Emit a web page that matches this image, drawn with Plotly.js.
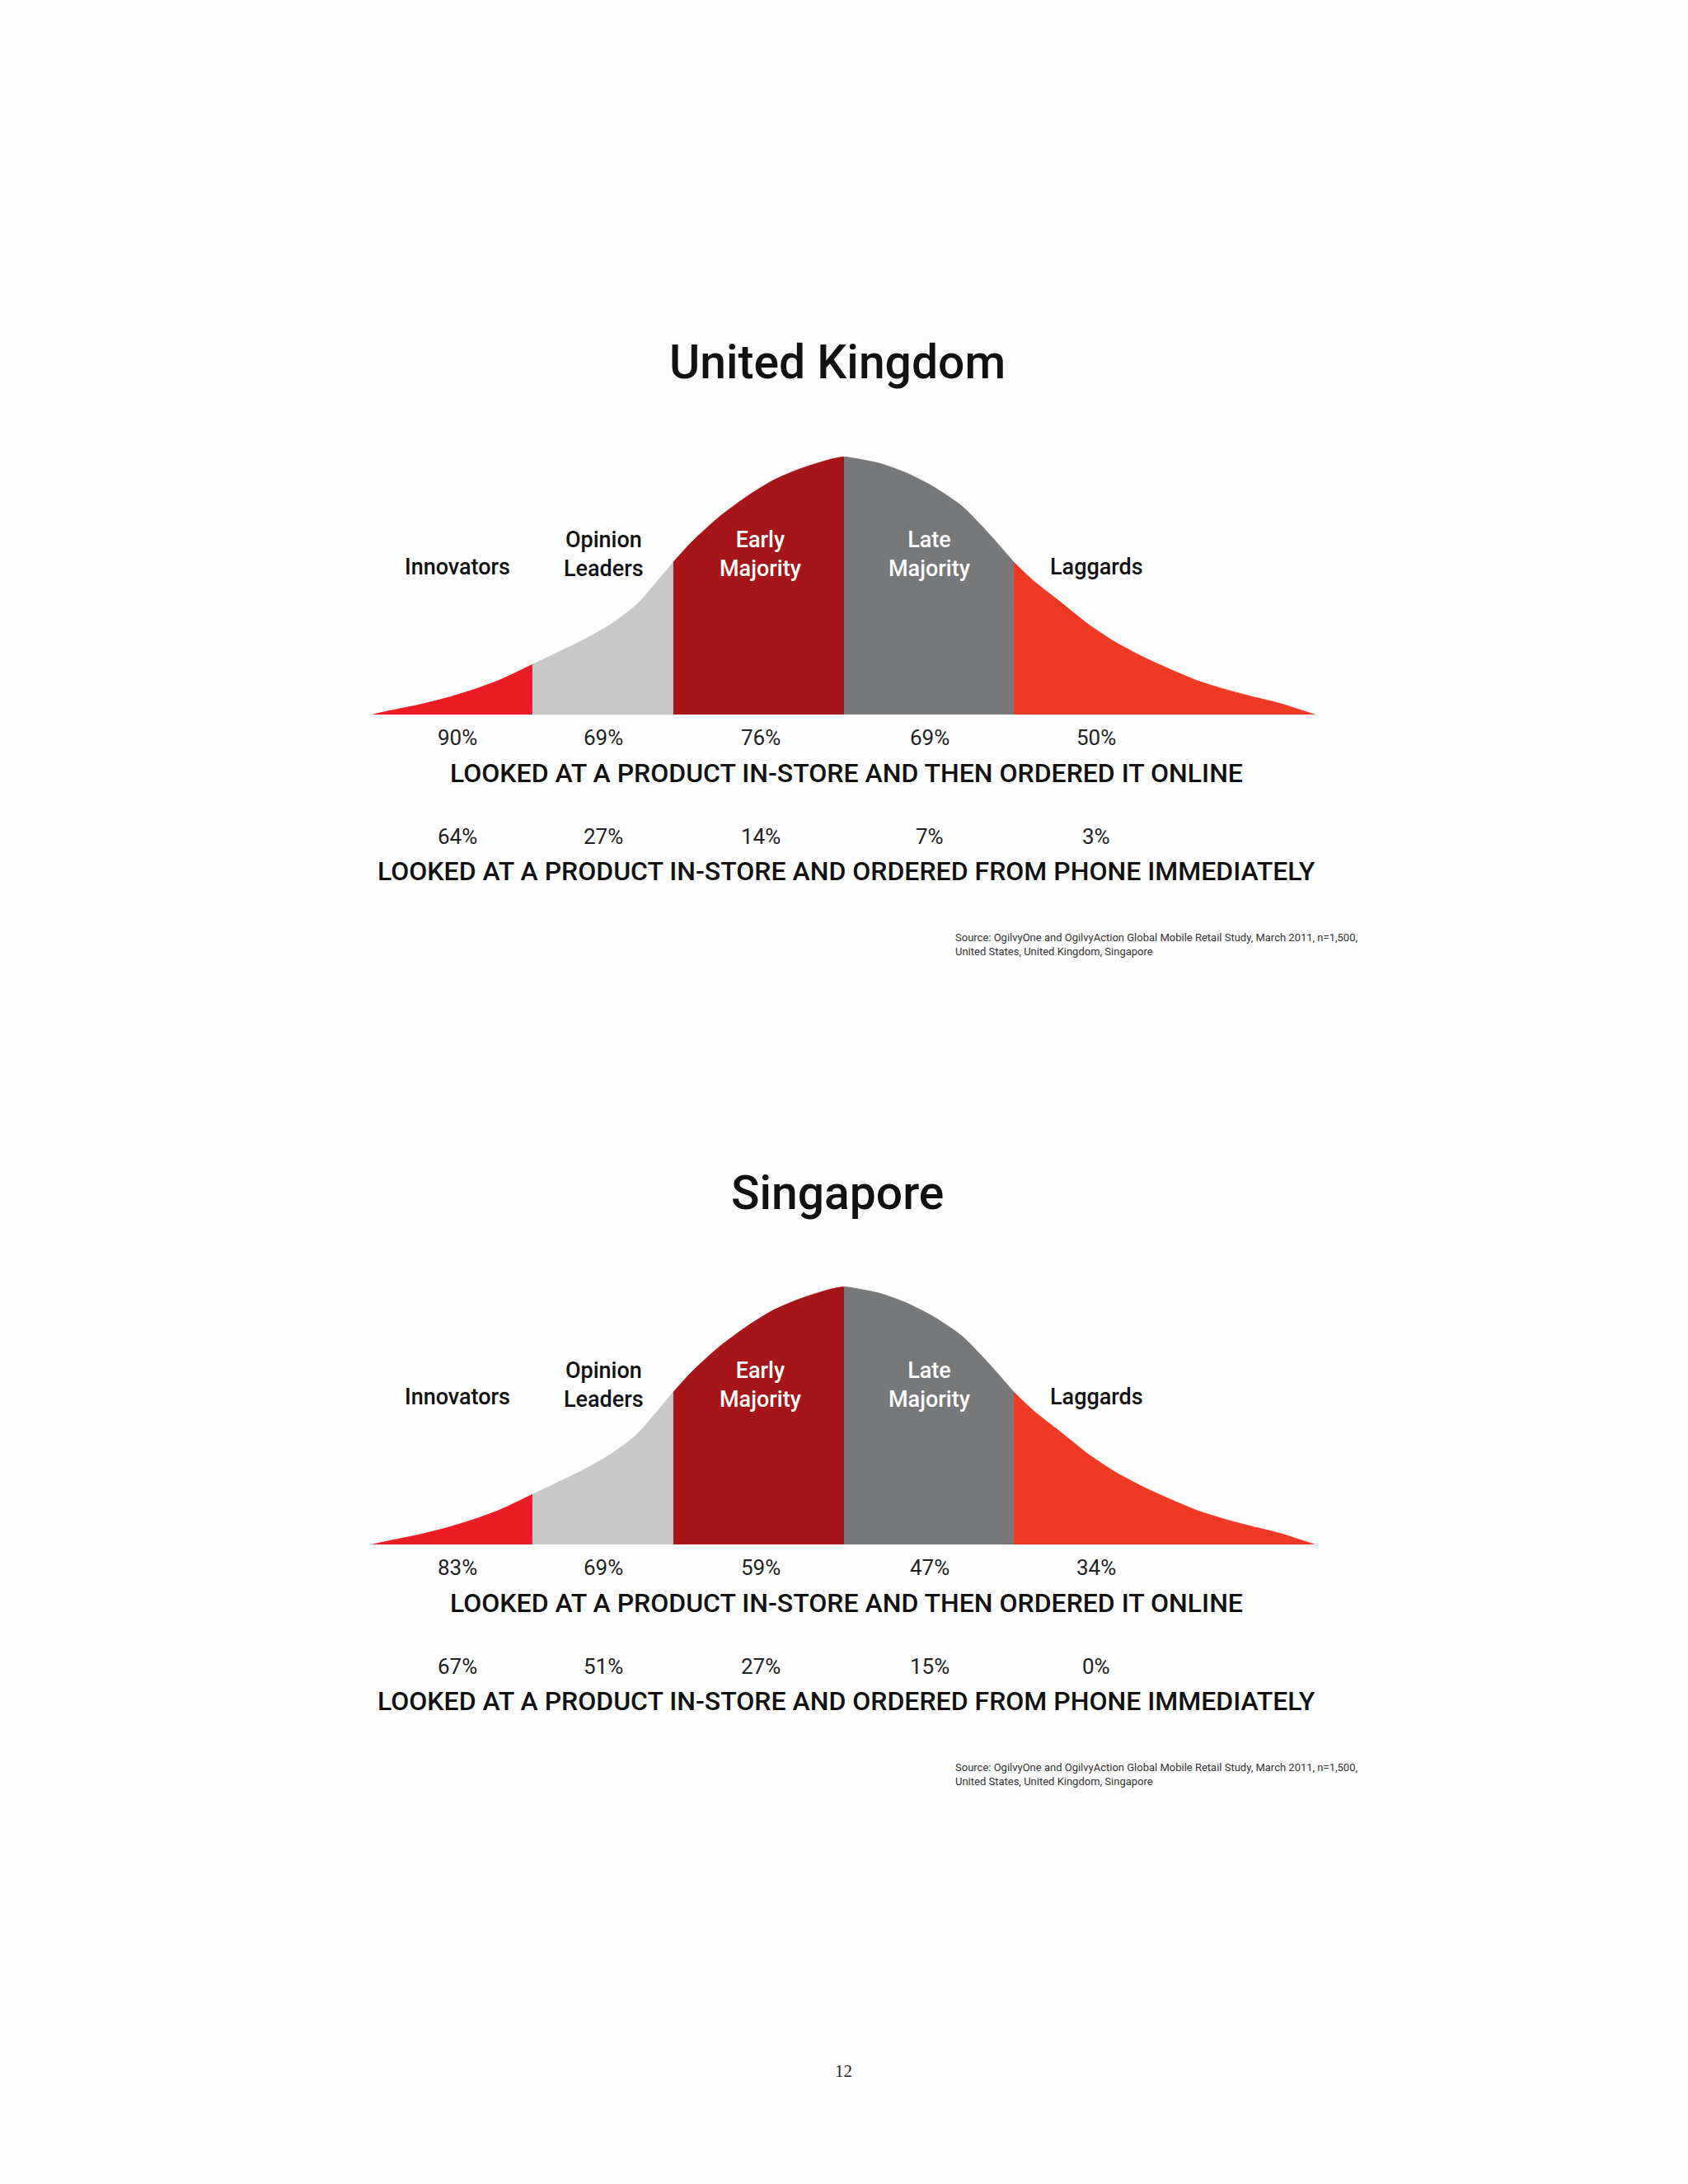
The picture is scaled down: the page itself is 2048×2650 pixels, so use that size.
<!DOCTYPE html>
<html>
<head>
<meta charset="utf-8">
<script src="https://cdn.plot.ly/plotly-3.0.1.min.js"></script>
<style>
  html, body { margin: 0; padding: 0; background: #fdfdfd; }
  #chart { width: 2048px; height: 2650px; }
</style>
</head>
<body>
<div id="chart"></div>
<script>
// ---------------- DATA ----------------
const countries = ['United Kingdom', 'Singapore'];
const categories = ['Innovators', 'Opinion<br>Leaders', 'Early<br>Majority', 'Late<br>Majority', 'Laggards'];
const rowLabels = [
  'LOOKED AT A PRODUCT IN-STORE AND THEN ORDERED IT ONLINE',
  'LOOKED AT A PRODUCT IN-STORE AND ORDERED FROM PHONE IMMEDIATELY'
];
const ukOrderedOnline = [90, 69, 76, 69, 50];
const ukOrderedPhone  = [64, 27, 14, 7, 3];
const sgOrderedOnline = [83, 69, 59, 47, 34];
const sgOrderedPhone  = [67, 51, 27, 15, 0];
// adoption bell curve (x in std-dev units, height in % of peak)
const curveX = [-2.790, -2.688, -2.522, -2.361, -2.200, -2.034, -1.844, -1.712, -1.546, -1.385, -1.224, -1.059, -1.010,
                -0.898, -0.737, -0.571, -0.410, -0.249, -0.083, 0,
                0.210, 0.371, 0.532, 0.698, 0.859, 1.005, 1.117, 1.283, 1.444, 1.605, 1.771, 1.932, 2.093, 2.259, 2.420, 2.580, 2.785];
const curveY = [0, 1.5, 3.7, 6.3, 9.5, 13.5, 19.4, 23.5, 28.8, 34.8, 42.8, 55.3, 59.1,
                67.1, 76.7, 84.7, 91.1, 95.5, 98.9, 100,
                97.4, 93.6, 88.2, 80.8, 70.0, 59.1, 52.1, 43.5, 35.1, 28.1, 22.3, 17.5, 13.1, 9.7, 6.9, 4.3, 0];
const segmentEdges = [-2.790, -1.844, -1.010, 0, 1.005, 2.785];
const sourceText = 'Source: OgilvyOne and OgilvyAction Global Mobile Retail Study, March 2011, n=1,500,<br>United States, United Kingdom, Singapore';
const pageNumber = '12';

// ---------------- STYLE / LAYOUT ----------------
const W = 2048, H = 2650;
const CX = 1024, SX = 205;            // pixel centre and pixels per x unit
const labelX = [-2.288, -1.424, -0.493, 0.507, 1.493];
const segColors = ['#ed1c24', '#c8c8c8', '#a61517', '#77787a', '#ee3a24'];
const labelColors = ['#111', '#111', '#ffffff', '#ffffff', '#111'];
const FONT = 'Roboto, "Noto Sans", sans-serif';
const offsets = [0, 1007];
const py = p => 1 - p / H;

const series = [[ukOrderedOnline, ukOrderedPhone], [sgOrderedOnline, sgOrderedPhone]];

const traces = [];
const annotations = [];

offsets.forEach((off, ci) => {
  const xa = ci === 0 ? 'x' : 'x2';
  const ya = ci === 0 ? 'y' : 'y2';
  for (let s = 0; s < segColors.length; s++) {
    const lo = segmentEdges[s], hi = segmentEdges[s + 1];
    const xs = [], ys = [];
    curveX.forEach((v, i) => { if (v >= lo - 1e-9 && v <= hi + 1e-9) { xs.push(v); ys.push(curveY[i]); } });
    traces.push({
      type: 'scatter', mode: 'lines', x: xs, y: ys, xaxis: xa, yaxis: ya,
      fill: 'tozeroy', fillcolor: segColors[s],
      line: { shape: 'spline', smoothing: 0.7, width: 0.8, color: segColors[s] },
      hoverinfo: 'skip', showlegend: false
    });
  }
  // title
  annotations.push({
    xref: 'paper', yref: 'paper', x: 1016 / W, y: py(440 + off), xanchor: 'center', yanchor: 'middle',
    text: countries[ci], showarrow: false,
    font: { family: FONT, size: 57, color: '#111', weight: 500 }
  });
  // category labels
  categories.forEach((c, i) => {
    const two = c.indexOf('<br>') >= 0;
    annotations.push({
      xref: xa, yref: 'paper', x: labelX[i], y: py((two ? 673 : 688) + off),
      xanchor: 'center', yanchor: 'middle', align: 'center',
      text: c, showarrow: false,
      font: { family: FONT, size: 27, color: labelColors[i], weight: 500 }
    });
  });
  // percentage rows
  const rowPctY = [895, 1015], rowTxtY = [938, 1057];
  series[ci].forEach((vals, r) => {
    vals.forEach((v, i) => {
      annotations.push({
        xref: xa, yref: 'paper', x: labelX[i], y: py(rowPctY[r] + off),
        xanchor: 'center', yanchor: 'middle', text: v + '%', showarrow: false,
        font: { family: FONT, size: 26, color: '#222' }
      });
    });
    annotations.push({
      xref: 'paper', yref: 'paper', x: 1027 / W, y: py(rowTxtY[r] + off),
      xanchor: 'center', yanchor: 'middle', text: rowLabels[r], showarrow: false,
      font: { family: FONT, size: 32, color: '#111', weight: 500 }
    });
  });
  annotations.push({
    xref: 'paper', yref: 'paper', x: 1157 / W, y: py(1146 + off),
    xanchor: 'left', yanchor: 'middle', align: 'left', text: sourceText, showarrow: false,
    font: { family: FONT, size: 13, color: '#333' }
  });
});

annotations.push({
  xref: 'paper', yref: 'paper', x: 1023 / W, y: py(2513), xanchor: 'center', yanchor: 'middle',
  text: pageNumber, showarrow: false,
  font: { family: '"Liberation Serif", "DejaVu Serif", serif', size: 21, color: '#222' }
});

const hidden = { visible: false, showgrid: false, zeroline: false, showticklabels: false, fixedrange: true };
const xr = [(0 - CX) / SX, (W - CX) / SX];

const layout = {
  width: W, height: H,
  margin: { l: 0, r: 0, t: 0, b: 0, pad: 0 },
  paper_bgcolor: '#fdfdfd', plot_bgcolor: 'rgba(0,0,0,0)',
  showlegend: false,
  xaxis:  Object.assign({}, hidden, { range: xr, domain: [0, 1], anchor: 'y' }),
  yaxis:  Object.assign({}, hidden, { range: [0, 100], domain: [py(867), py(554)], anchor: 'x' }),
  xaxis2: Object.assign({}, hidden, { range: xr, domain: [0, 1], anchor: 'y2' }),
  yaxis2: Object.assign({}, hidden, { range: [0, 100], domain: [py(867 + 1007), py(554 + 1007)], anchor: 'x2' }),
  annotations: annotations
};

Plotly.newPlot('chart', traces, layout, { displayModeBar: false, staticPlot: true });
</script>
</body>
</html>
